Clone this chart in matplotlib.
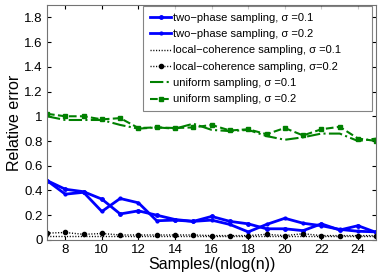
import matplotlib
matplotlib.use("Agg")
import matplotlib.pyplot as plt

x = list(range(7, 26))
two_phase_01 = [0.48, 0.41, 0.39, 0.33, 0.21, 0.235, 0.20, 0.165, 0.15, 0.19, 0.15, 0.13, 0.09, 0.09, 0.075, 0.13, 0.08, 0.115, 0.06]
two_phase_02 = [0.48, 0.37, 0.385, 0.23, 0.335, 0.30, 0.155, 0.16, 0.15, 0.16, 0.125, 0.065, 0.125, 0.175, 0.135, 0.115, 0.085, 0.07, 0.065]
local_01 = [0.03, 0.03, 0.03, 0.03, 0.03, 0.03, 0.03, 0.03, 0.03, 0.03, 0.03, 0.03, 0.03, 0.03, 0.03, 0.03, 0.03, 0.03, 0.03]
local_02 = [0.055, 0.06, 0.045, 0.052, 0.04, 0.04, 0.04, 0.04, 0.04, 0.035, 0.035, 0.035, 0.045, 0.035, 0.05, 0.035, 0.035, 0.035, 0.035]
uniform_01 = [1.0, 0.97, 0.97, 0.97, 0.93, 0.90, 0.91, 0.90, 0.94, 0.89, 0.88, 0.89, 0.84, 0.81, 0.83, 0.86, 0.86, 0.80, 0.82]
uniform_02 = [1.02, 1.0, 1.0, 0.975, 0.985, 0.905, 0.91, 0.905, 0.91, 0.93, 0.885, 0.895, 0.855, 0.905, 0.845, 0.895, 0.915, 0.82, 0.80]
labels = ["two\u2212phase sampling, \u03c3 =0.1",
          "two\u2212phase sampling, \u03c3 =0.2",
          "local\u2212coherence sampling, \u03c3 =0.1",
          "local\u2212coherence sampling, \u03c3=0.2",
          "uniform sampling, \u03c3 =0.1",
          "uniform sampling, \u03c3 =0.2"]

plt.rcParams['font.family'] = ['Liberation Sans', 'DejaVu Sans']
fig = plt.figure(figsize=(3.82, 2.78), dpi=100)
ax = fig.add_axes([0.123, 0.137, 0.862, 0.845])

blue = (0, 0, 1)
green = (0, 0.5, 0)
ax.plot(x, two_phase_01, color=blue, lw=2.0, marker='.', ms=5, label=labels[0])
ax.plot(x, two_phase_02, color=blue, lw=2.0, marker='.', ms=4, label=labels[1])
ax.plot(x, local_01, color='black', lw=1.0, ls=(0, (0.8, 1.2)), label=labels[2])
ax.plot(x, local_02, color='black', lw=1.0, ls=(0, (0.8, 1.2)), marker='o', ms=3, label=labels[3])
ax.plot(x, uniform_01, color=green, lw=1.5, ls='-.', label=labels[4])
ax.plot(x, uniform_02, color=green, lw=1.5, ls='--', marker='s', ms=3.5, mfc=green, label=labels[5])

ax.set_xlim(7, 25)
ax.set_ylim(0, 1.9)
ax.set_xticks([8, 10, 12, 14, 16, 18, 20, 22, 24])
ax.set_yticks([0, 0.2, 0.4, 0.6, 0.8, 1.0, 1.2, 1.4, 1.6, 1.8])
ax.set_yticklabels(['0', '0.2', '0.4', '0.6', '0.8', '1', '1.2', '1.4', '1.6', '1.8'])
ax.tick_params(direction='in', labelsize=9.5, length=3, top=True, right=True, pad=3)
ax.set_xlabel("Samples/(nlog(n))", fontsize=11.5, labelpad=1)
ax.set_ylabel("Relative error", fontsize=11.5, labelpad=2)
for s in ax.spines.values():
    s.set_color('0.45')

leg = ax.legend(loc='upper left', bbox_to_anchor=(0.292, 0.549, 0.696, 0.447),
                mode='expand', fontsize=8.0, frameon=True, fancybox=False,
                edgecolor='0.4', handlelength=1.9, handletextpad=0.15,
                borderaxespad=0.0, labelspacing=0.57, borderpad=0.62)
leg.get_frame().set_linewidth(0.8)

fig.savefig("out.png", dpi=100)
